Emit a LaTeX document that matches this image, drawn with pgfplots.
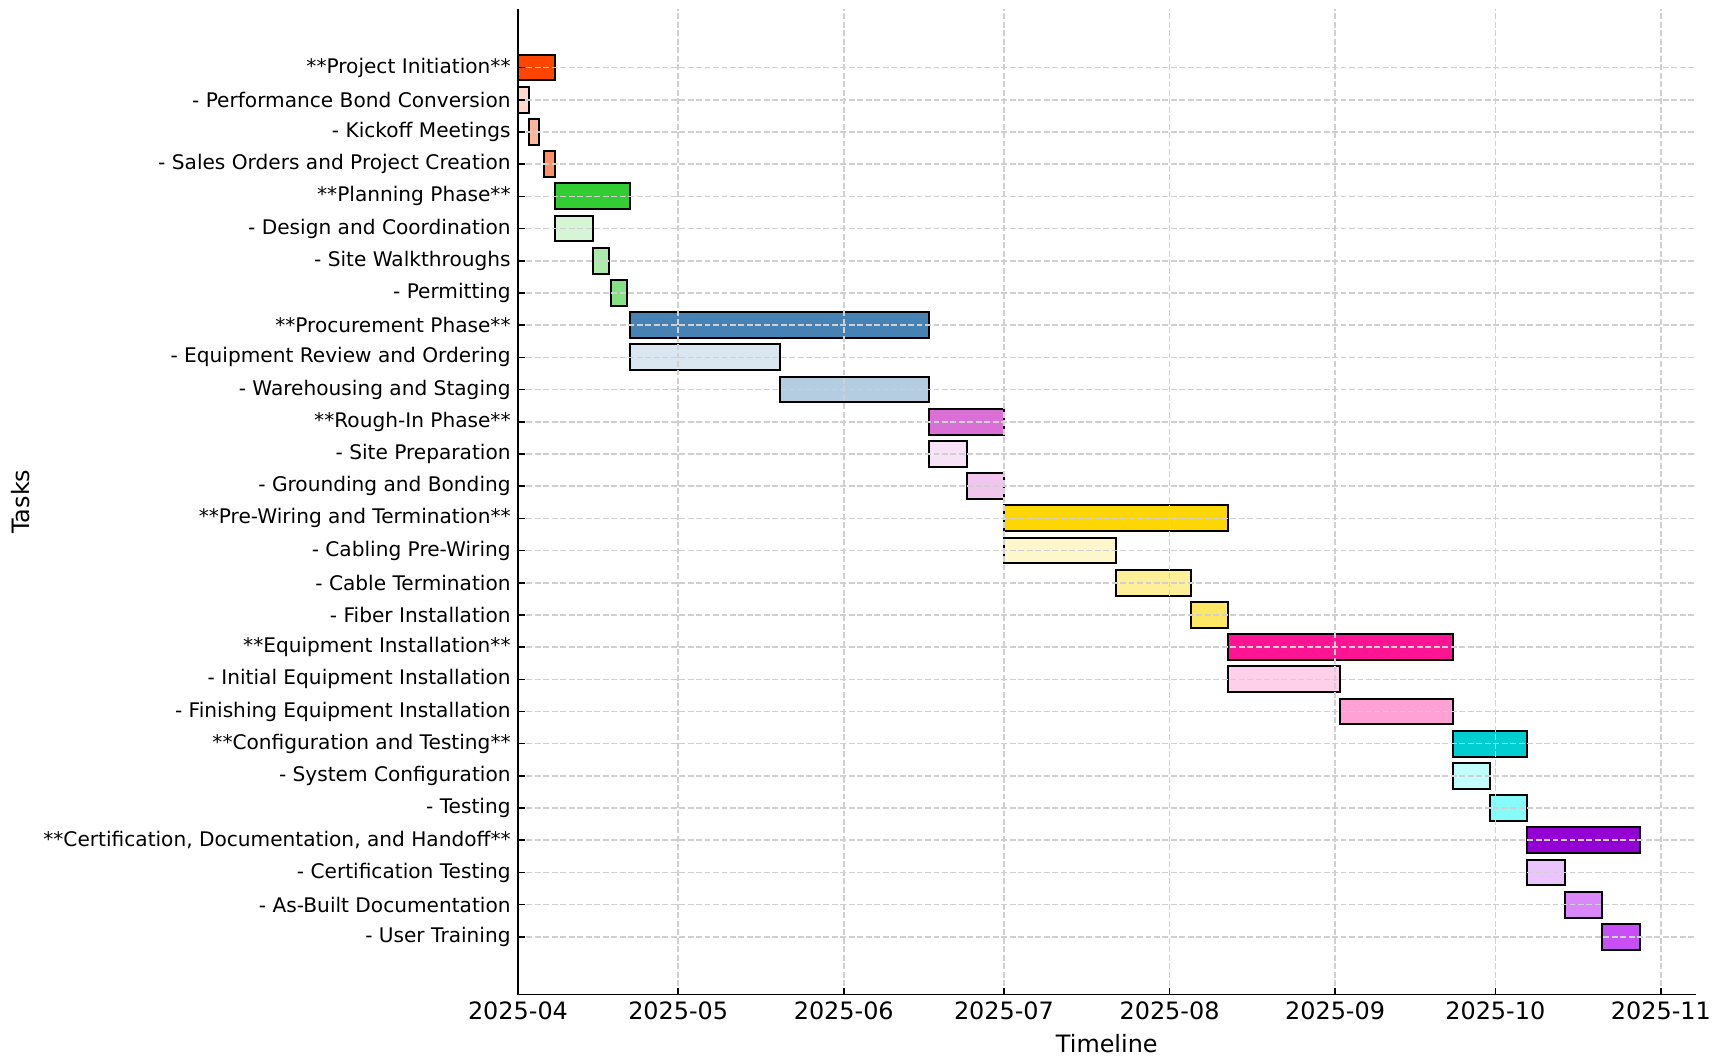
\documentclass[border=0pt]{standalone}
\usepackage{fontspec}
\setmainfont{DejaVu Sans}
\usepackage{pgfplots}
\pgfplotsset{compat=1.18}
\usetikzlibrary{calc}
\definecolor{ORr}{RGB}{255,69,0}
\definecolor{LG}{RGB}{50,205,50}
\definecolor{SB}{RGB}{70,130,180}
\definecolor{OC}{RGB}{218,112,214}
\definecolor{GD}{RGB}{255,215,0}
\definecolor{DP}{RGB}{255,20,147}
\definecolor{DT}{RGB}{0,206,209}
\definecolor{DTa}{RGB}{192,255,252}
\definecolor{DTb}{RGB}{135,250,250}
\definecolor{DV}{RGB}{148,0,211}
\definecolor{DVa}{RGB}{235,195,255}
\definecolor{DVb}{RGB}{218,135,250}
\definecolor{DVc}{RGB}{198,80,245}
\definecolor{gridc}{RGB}{208,208,208}
% row, start day, end day, colour
\newcommand\task[4]{%
  \pgfmathsetmacro\ylo{27-#1-0.4}%
  \pgfmathsetmacro\yhi{27-#1+0.4}%
  \edef\doit{\noexpand\addplot[fill=#4,draw=black,line width=1bp] coordinates {(#2,\ylo) (#3,\ylo) (#3,\yhi) (#2,\yhi)} -- cycle;}%
  \doit}
\begin{document}
\begin{tikzpicture}
\begin{axis}[
  scale only axis, width=588.8bp, height=492.75bp,
  xmin=0, xmax=220.5, ymin=-1.79, ymax=28.82,
  axis x line*=bottom, axis y line*=left,
  axis line style={-, line width=0.8bp, black},
  tick align=inside, major tick length=3.5bp,
  tick style={line width=0.8bp, black},
  xtick={0,30,61,91,122,153,183,214},
  xticklabels={2025-04,2025-05,2025-06,2025-07,2025-08,2025-09,2025-10,2025-11},
  ytick={0,...,27},
  yticklabels={- User Training, - As-Built Documentation, - Certification Testing,
    {**Certification, Documentation, and Handoff**},
    - Testing, - System Configuration, **Configuration and Testing**,
    - Finishing Equipment Installation, - Initial Equipment Installation, **Equipment Installation**,
    - Fiber Installation, - Cable Termination, - Cabling Pre-Wiring, **Pre-Wiring and Termination**,
    - Grounding and Bonding, - Site Preparation, **Rough-In Phase**,
    - Warehousing and Staging, - Equipment Review and Ordering, **Procurement Phase**,
    - Permitting, - Site Walkthroughs, - Design and Coordination, **Planning Phase**,
    - Sales Orders and Project Creation, - Kickoff Meetings, - Performance Bond Conversion,
    **Project Initiation**},
  grid=major,
  grid style={line width=0.8bp, color=gridc, dash pattern=on 2.96bp off 1.28bp},
  axis on top,
  xticklabel style={font=\fontsize{12}{14}\selectfont, inner sep=0pt, yshift=-3.5bp},
  yticklabel style={font=\fontsize{10.1}{12}\selectfont, inner sep=0pt, xshift=-3.5bp},
  xlabel={Timeline}, ylabel={Tasks},
  xlabel style={font=\fontsize{12}{14}\selectfont, at={(axis description cs:0.5,0)}, anchor=north, inner sep=0pt, yshift=-19.5bp},
  ylabel style={font=\fontsize{12}{14}\selectfont, at={(axis description cs:0,0.5)}, anchor=north, inner sep=0pt, yshift=253.5bp},
]
\task{0}{0}{7}{ORr}
\task{1}{0}{2}{ORr!20}
\task{2}{2}{4}{ORr!40}
\task{3}{4.8}{6.9}{ORr!60}
\task{4}{7}{21}{LG}
\task{5}{7}{14}{LG!20}
\task{6}{14}{17}{LG!40}
\task{7}{17.4}{20.5}{LG!60}
\task{8}{21}{77}{SB}
\task{9}{21}{49}{SB!20}
\task{10}{49}{77}{SB!40}
\task{11}{77}{91}{OC}
\task{12}{77}{84}{OC!20}
\task{13}{84}{91}{OC!40}
\task{14}{91}{133}{GD}
\task{15}{91}{112}{GD!20}
\task{16}{112}{126}{GD!40}
\task{17}{126}{133}{GD!60}
\task{18}{133}{175}{DP}
\task{19}{133}{154}{DP!20}
\task{20}{154}{175}{DP!40}
\task{21}{175}{189}{DT}
\task{22}{175}{182}{DTa}
\task{23}{182}{189}{DTb}
\task{24}{189}{210}{DV}
\task{25}{189}{196}{DVa}
\task{26}{196}{203}{DVb}
\task{27}{203}{210}{DVc}
\coordinate (SW) at (rel axis cs:0,0);
\coordinate (NE) at (rel axis cs:1,1);
\end{axis}
\pgfresetboundingbox
\path[use as bounding box] ($(SW)+(-259bp,-31.25bp)$) rectangle ($(NE)+(13.7bp,4.5bp)$);
\end{tikzpicture}
\end{document}
